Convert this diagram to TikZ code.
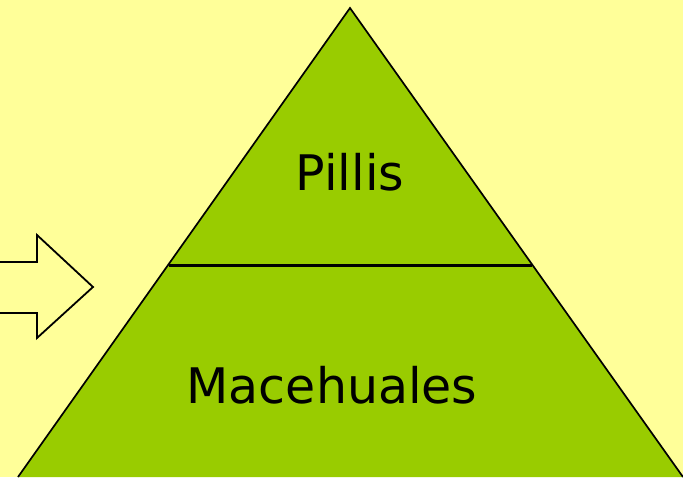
\documentclass[tikz,border=0pt]{standalone}
\usepackage{fontspec}
\setmainfont{DejaVu Sans}
\definecolor{fondo}{RGB}{255,255,153}
\definecolor{verde}{RGB}{153,204,0}

\begin{document}
\begin{tikzpicture}[x=1pt, y=-1pt]
  \tikzset{etiqueta/.style={font=\fontsize{49}{54}\selectfont, text=black}}
  % Fondo
  \fill[fondo] (0,0) rectangle (683,477);
  \useasboundingbox (0,0) rectangle (683,477);
  % Vertices de la piramide
  \coordinate (V) at (350,8);
  \coordinate (I) at (18,477);
  \coordinate (D) at (683,477);
  \coordinate (CI) at (168.5,265.5);
  \coordinate (CD) at (531.5,265.5);
  % Piramide
  \fill[verde] (V) -- (I) -- (D) -- cycle;
  \draw[line width=1.7pt, line join=miter] (I) -- (V) -- (D);
  \draw[line width=3.5pt] (CI) -- (CD);
  % Flecha de la izquierda
  \draw[line width=1.8pt, fill=fondo] (-2,262) -- (37,262) -- (37,235) -- (93,287)
    -- (37,338) -- (37,313) -- (-2,313);
  % Nombres de los estratos
  \node[etiqueta] (pillis) at (350,172) {Pillis};
  \node[etiqueta] (macehuales) at (332,385) {Macehuales};
\end{tikzpicture}
\end{document}
